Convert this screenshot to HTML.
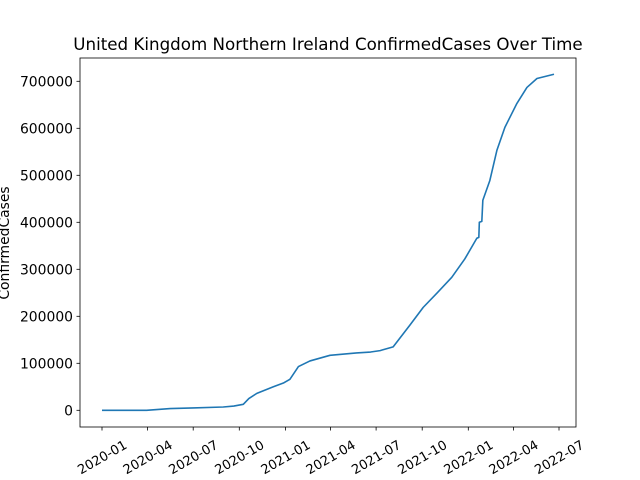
<!DOCTYPE html>
<html><head><meta charset="utf-8"><style>body{margin:0;background:#fff}svg{display:block;font-family:"DejaVu Sans","Liberation Sans",sans-serif}</style></head>
<body>
<svg id="chart" width="640" height="480" viewBox="0 0 640 480">
<rect width="640" height="480" fill="#fff"/>
<text x="328" y="50" font-size="16.7" text-anchor="middle">United Kingdom Northern Ireland ConfirmedCases Over Time</text>
<text transform="translate(9,243) rotate(-90)" font-size="13.9" text-anchor="middle">ConfirmedCases</text>
<g id="ticks"></g>
<path id="line" fill="none" stroke="#1f77b4" stroke-width="1.6" stroke-linejoin="round"/>
<rect x="80" y="58" width="496" height="369" fill="none" stroke="#000" stroke-width="0.8"/>
</svg>
<script>
const dates = ["2020-01-01","2020-03-30","2020-05-16","2020-07-01","2020-08-30","2020-09-20","2020-10-09","2020-10-20","2020-11-05","2020-12-08","2020-12-28","2021-01-10","2021-01-27","2021-02-19","2021-03-31","2021-05-23","2021-06-20","2021-07-09","2021-08-04","2021-09-07","2021-10-03","2021-10-31","2021-11-29","2021-12-25","2022-01-18","2022-01-22","2022-01-23","2022-01-28","2022-01-30","2022-02-13","2022-02-27","2022-03-15","2022-04-08","2022-04-28","2022-05-18","2022-06-21"];
const cases = [0,0,3600,5000,7000,9000,12800,25000,36000,50000,58000,66000,93000,105000,117000,122000,124000,127000,135000,182000,219000,250000,283000,322000,366000,368000,400000,402000,447000,489000,553000,602000,653000,687000,706000,715000];
const xTickLabels = ["2020-01","2020-04","2020-07","2020-10","2021-01","2021-04","2021-07","2021-10","2022-01","2022-04","2022-07"];
const yTickValues = [0,100000,200000,300000,400000,500000,600000,700000];
const NS="http://www.w3.org/2000/svg";
const t0 = Date.UTC(2020,0,1);
function dayOf(s){const p=s.split("-").map(Number);return (Date.UTC(p[0],p[1]-1,p[2]||1)-t0)/86400000;}
function xs(d){return 102+d*0.5011;}
function ys(v){return 410.3-v*329/700000;}
const g=document.getElementById("ticks");
xTickLabels.forEach(l=>{
  const x=xs(dayOf(l+"-01"));
  const t=document.createElementNS(NS,"line");
  t.setAttribute("x1",x);t.setAttribute("x2",x);t.setAttribute("y1",427);t.setAttribute("y2",430.5);t.setAttribute("stroke","#000");t.setAttribute("stroke-width","0.8");
  
  
  g.appendChild(t);
  const tx=document.createElementNS(NS,"text");
  tx.setAttribute("font-size","13");tx.setAttribute("text-anchor","middle");
  tx.setAttribute("transform","translate("+x+",457) rotate(-30)");
  tx.setAttribute("dy","0.36em");
  tx.textContent=l;
  
  
  g.appendChild(tx);
});
yTickValues.forEach(v=>{
  const y=ys(v);
  const t=document.createElementNS(NS,"line");
  t.setAttribute("x1",76.5);t.setAttribute("x2",80);t.setAttribute("y1",y);t.setAttribute("y2",y);t.setAttribute("stroke","#000");t.setAttribute("stroke-width","0.8");
  
  
  g.appendChild(t);
  const tx=document.createElementNS(NS,"text");
  tx.setAttribute("x",73);tx.setAttribute("y",y+5);tx.setAttribute("font-size","13.9");tx.setAttribute("text-anchor","end");
  tx.textContent=String(v);
  
  
  g.appendChild(tx);
});
document.getElementById("line").setAttribute("d",dates.map((d,i)=>(i?"L":"M")+xs(dayOf(d)).toFixed(2)+","+ys(cases[i]).toFixed(2)).join(""));
</script>
</body></html>
